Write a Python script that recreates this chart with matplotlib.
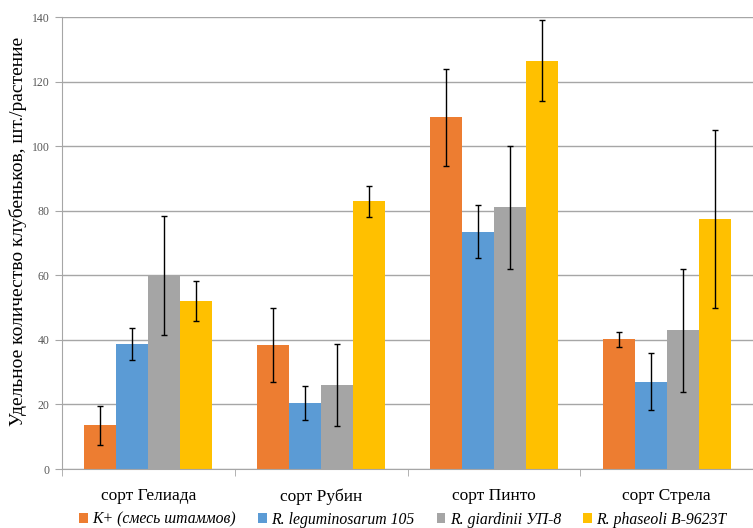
import matplotlib.pyplot as plt
import numpy as np
from matplotlib.patches import Patch

categories = ["сорт Гелиада", "сорт Рубин", "сорт Пинто", "сорт Стрела"]
series = ["K+ (смесь штаммов)", "R. leguminosarum 105", "R. giardinii УП-8", "R. phaseoli B-9623T"]
colors = ["#ED7D31", "#5B9BD5", "#A5A5A5", "#FFC000"]

k_plus = [13.5, 38.5, 109.0, 40.2]
k_plus_err = [6.0, 11.5, 15.0, 2.3]
legum = [38.8, 20.5, 73.5, 27.0]
legum_err = [5.0, 5.3, 8.2, 8.8]
giard = [60.0, 26.0, 81.0, 43.0]
giard_err = [18.5, 12.6, 19.0, 19.0]
phase = [52.0, 83.0, 126.5, 77.5]
phase_err = [6.3, 4.8, 12.5, 27.5]

values = [k_plus, legum, giard, phase]
errors = [k_plus_err, legum_err, giard_err, phase_err]

plt.rcParams["font.family"] = ["Liberation Serif", "DejaVu Serif"]

fig = plt.figure(figsize=(7.53, 5.28), dpi=100)
ax = fig.add_axes([62 / 753, 59 / 528, 691 / 753, 452 / 528])

x = np.arange(len(categories))
w = 0.185
for i, (vals, errs) in enumerate(zip(values, errors)):
    pos = x + (i - 1.5) * w
    ax.bar(pos, vals, width=w, color=colors[i], zorder=2)
    ax.errorbar(pos, vals, yerr=errs, fmt="none", ecolor="black",
                elinewidth=1, capsize=2.5, capthick=1, zorder=3)

ax.set_xlim(-0.5, 3.5)
ax.set_ylim(0, 140)
ax.set_yticks(np.arange(0, 141, 20))
ax.yaxis.grid(True, color="#a6a6a6", linewidth=1, zorder=0)
ax.set_axisbelow(True)

ax.set_xticks(x)
ax.set_xticklabels(categories, fontsize=12.5)
ax.set_xticks(np.arange(-0.5, 4.0, 1.0), minor=True)
ax.tick_params(axis="x", which="major", length=0, pad=14)
ax.tick_params(axis="x", which="minor", length=5, color="#a6a6a6", direction="out")
ax.tick_params(axis="y", length=5, color="#a6a6a6", labelsize=8.5, labelcolor="#595959", pad=4)

for s in ["top", "right"]:
    ax.spines[s].set_visible(False)
ax.spines["left"].set_color("#a6a6a6")
ax.spines["bottom"].set_color("#a6a6a6")

ax.set_ylabel("Удельное количество клубеньков, шт./растение", fontsize=14)
ax.yaxis.set_label_coords(-0.051, 0.525)

handles = [Patch(facecolor=c) for c in colors]
fig.legend(handles, series, loc="lower center", bbox_to_anchor=(0.535, -0.026), ncol=4,
           frameon=False, prop={"style": "italic", "size": 11.3},
           handlelength=0.55, handleheight=0.55, handletextpad=0.3, columnspacing=1.4)

fig.savefig("out.png", dpi=100)
